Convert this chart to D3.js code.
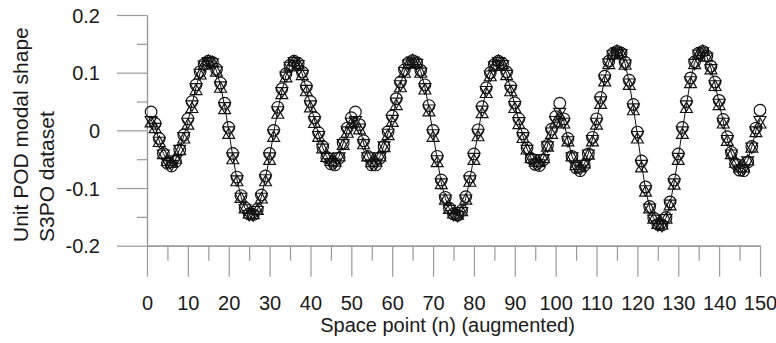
<!DOCTYPE html>
<html>
<head>
<meta charset="utf-8">
<script src="https://cdn.jsdelivr.net/npm/d3@7"></script>
<style>
  body { margin: 0; background: #fff; }
  text { font-family: "Liberation Sans", Arial, sans-serif; fill: #1a1a1a; }
</style>
</head>
<body>
<script>
// space points 1..150 (three 50-point blocks, augmented)
const points = d3.range(1, 151);

// circle series
const circleVals = [
  0.032, 0.012, -0.014, -0.040, -0.057, -0.062, -0.054, -0.034, -0.008, 0.020,
  0.050, 0.079, 0.102, 0.115, 0.120, 0.118, 0.106, 0.082, 0.047, 0.005,
  -0.040, -0.081, -0.113, -0.134, -0.145, -0.146, -0.137, -0.112, -0.079, -0.040,
  0.000, 0.040, 0.072, 0.098, 0.113, 0.120, 0.116, 0.101, 0.076, 0.050,
  0.022, -0.004, -0.028, -0.047, -0.058, -0.060, -0.048, -0.022, 0.004, 0.022,
  0.032, 0.010, -0.018, -0.045, -0.060, -0.060, -0.048, -0.028, -0.002, 0.025,
  0.055, 0.084, 0.105, 0.117, 0.121, 0.117, 0.104, 0.079, 0.043, 0.000,
  -0.045, -0.086, -0.116, -0.135, -0.145, -0.147, -0.139, -0.115, -0.081, -0.041,
  0.001, 0.041, 0.074, 0.100, 0.114, 0.120, 0.116, 0.101, 0.076, 0.048,
  0.020, -0.006, -0.030, -0.049, -0.059, -0.061, -0.051, -0.026, 0.002, 0.024,
  0.047, 0.020, -0.014, -0.045, -0.065, -0.070, -0.061, -0.041, -0.012, 0.020,
  0.057, 0.094, 0.120, 0.133, 0.137, 0.134, 0.118, 0.087, 0.045, -0.003,
  -0.053, -0.098, -0.132, -0.152, -0.163, -0.164, -0.151, -0.124, -0.086, -0.041,
  0.005, 0.050, 0.091, 0.119, 0.134, 0.137, 0.129, 0.111, 0.084, 0.052,
  0.019, -0.011, -0.038, -0.058, -0.069, -0.070, -0.055, -0.028, 0.004, 0.035
];

// up-triangle series
const upTriVals = [
  0.012, 0.002, -0.022, -0.043, -0.055, -0.058, -0.051, -0.036, -0.016, 0.008,
  0.037, 0.068, 0.095, 0.112, 0.119, 0.117, 0.100, 0.072, 0.035, -0.008,
  -0.052, -0.090, -0.119, -0.137, -0.146, -0.147, -0.140, -0.120, -0.090, -0.053,
  -0.013, 0.027, 0.061, 0.090, 0.109, 0.118, 0.113, 0.094, 0.066, 0.038,
  0.011, -0.013, -0.033, -0.048, -0.055, -0.056, -0.047, -0.027, -0.006, 0.010,
  0.012, 0.000, -0.026, -0.047, -0.057, -0.056, -0.047, -0.031, -0.010, 0.013,
  0.042, 0.073, 0.098, 0.114, 0.120, 0.116, 0.098, 0.069, 0.031, -0.013,
  -0.057, -0.095, -0.122, -0.138, -0.146, -0.148, -0.142, -0.122, -0.091, -0.053,
  -0.012, 0.028, 0.063, 0.092, 0.110, 0.119, 0.113, 0.094, 0.066, 0.037,
  0.009, -0.015, -0.035, -0.050, -0.056, -0.057, -0.050, -0.030, -0.008, 0.012,
  0.024, 0.010, -0.021, -0.047, -0.062, -0.066, -0.059, -0.044, -0.021, 0.008,
  0.044, 0.083, 0.113, 0.130, 0.136, 0.133, 0.112, 0.077, 0.033, -0.016,
  -0.066, -0.108, -0.137, -0.155, -0.164, -0.165, -0.155, -0.132, -0.096, -0.053,
  -0.008, 0.037, 0.080, 0.113, 0.131, 0.136, 0.126, 0.104, 0.075, 0.042,
  0.010, -0.020, -0.043, -0.058, -0.066, -0.066, -0.054, -0.032, -0.005, 0.010
];

// down-triangle series (the line runs through this one)
const downTriVals = [
  0.018, 0.006, -0.018, -0.040, -0.054, -0.058, -0.050, -0.032, -0.010, 0.015,
  0.045, 0.075, 0.100, 0.114, 0.120, 0.118, 0.104, 0.078, 0.042, 0.000,
  -0.045, -0.085, -0.115, -0.135, -0.145, -0.146, -0.138, -0.115, -0.083, -0.045,
  -0.005, 0.035, 0.068, 0.095, 0.112, 0.120, 0.115, 0.098, 0.072, 0.045,
  0.018, -0.008, -0.030, -0.046, -0.055, -0.056, -0.045, -0.022, 0.000, 0.015,
  0.018, 0.005, -0.022, -0.045, -0.057, -0.056, -0.045, -0.026, -0.004, 0.020,
  0.050, 0.080, 0.103, 0.116, 0.121, 0.117, 0.102, 0.075, 0.038, -0.005,
  -0.050, -0.090, -0.118, -0.136, -0.145, -0.147, -0.140, -0.118, -0.085, -0.046,
  -0.004, 0.036, 0.070, 0.097, 0.113, 0.120, 0.115, 0.098, 0.072, 0.044,
  0.016, -0.010, -0.032, -0.048, -0.056, -0.057, -0.048, -0.026, -0.002, 0.018,
  0.032, 0.015, -0.017, -0.045, -0.062, -0.066, -0.058, -0.040, -0.015, 0.015,
  0.052, 0.090, 0.118, 0.132, 0.137, 0.134, 0.116, 0.083, 0.040, -0.008,
  -0.058, -0.102, -0.134, -0.153, -0.163, -0.164, -0.152, -0.127, -0.090, -0.046,
  0.000, 0.045, 0.087, 0.117, 0.133, 0.137, 0.128, 0.108, 0.080, 0.048,
  0.015, -0.015, -0.040, -0.057, -0.066, -0.066, -0.052, -0.028, 0.000, 0.018
];

// ticks
const xMajorTicks = d3.range(0, 151, 10);
const xMinorTicks = d3.range(5, 150, 10);
const yMajorTicks = [-0.2, -0.1, 0, 0.1, 0.2];
const yMinorTicks = [-0.15, -0.05, 0.05, 0.15];
const yTickLabels = ['-0.2', '-0.1', '0', '0.1', '0.2'];

const W = 776, H = 343;
const plotLeft = 147, plotRight = 760, plotTop = 15, plotBottom = 245.7;
const axisColor = '#9a9a9a';
const ink = '#111';

const svg = d3.select('body').append('svg')
  .attr('width', W)
  .attr('height', H);

const x = d3.scaleLinear().domain([0, 150]).range([plotLeft, plotRight]);
const y = d3.scaleLinear().domain([-0.2, 0.2]).range([plotBottom, plotTop]);

// y axis: long major ticks to the left, short minor ticks
const yAxis = svg.append('g')
  .attr('transform', `translate(${plotLeft},0)`)
  .call(d3.axisLeft(y).tickValues(yMajorTicks).tickSize(30).tickSizeOuter(0)
    .tickPadding(17)
    .tickFormat((d, i) => yTickLabels[i]));
svg.append('g')
  .attr('transform', `translate(${plotLeft},0)`)
  .call(d3.axisLeft(y).tickValues(yMinorTicks).tickSize(10).tickSizeOuter(0).tickFormat(''));

// x axis: long major ticks down, short minor ticks
const xAxis = svg.append('g')
  .attr('transform', `translate(0,${plotBottom})`)
  .call(d3.axisBottom(x).tickValues(xMajorTicks).tickSize(31).tickSizeOuter(0));
svg.append('g')
  .attr('transform', `translate(0,${plotBottom})`)
  .call(d3.axisBottom(x).tickValues(xMinorTicks).tickSize(15).tickSizeOuter(0).tickFormat(''));

svg.selectAll('.domain, .tick line')
  .attr('stroke', axisColor)
  .attr('stroke-width', 1.2);

yAxis.selectAll('text')
  .attr('font-size', '20px')
  .attr('dy', '0.36em')
  .style('font-family', '"Liberation Sans", Arial, sans-serif')
  .attr('fill', '#1a1a1a');

xAxis.selectAll('text')
  .attr('font-size', '20px')
  .attr('y', 64)
  .attr('dy', 0)
  .style('font-family', '"Liberation Sans", Arial, sans-serif')
  .attr('fill', '#1a1a1a');

// axis titles
svg.append('text')
  .attr('x', (plotLeft + plotRight) / 2 - 6)
  .attr('y', 332)
  .attr('text-anchor', 'middle')
  .attr('font-size', '20px')
  .text('Space point (n) (augmented)');

const yTitle = svg.append('text')
  .attr('transform', 'translate(28,242) rotate(-90)')
  .attr('font-size', '21px');
yTitle.append('tspan').attr('x', 0).attr('y', 0).text('Unit POD modal shape');
yTitle.append('tspan').attr('x', 0).attr('y', 25.5).text('S3PO dataset');

// connecting line
const line = d3.line()
  .x((d, i) => x(points[i]))
  .y(d => y(d));

svg.append('path')
  .datum(downTriVals)
  .attr('d', line)
  .attr('fill', 'none')
  .attr('stroke', ink)
  .attr('stroke-width', 1);

// markers
const plot = svg.append('g')
  .attr('fill', 'none')
  .attr('stroke', ink)
  .attr('stroke-width', 1.15);

plot.selectAll('circle')
  .data(circleVals)
  .enter()
  .append('circle')
    .attr('cx', (d, i) => x(points[i]))
    .attr('cy', d => y(d))
    .attr('r', 5.8);

const tri = d3.symbol().type(d3.symbolTriangle).size(62);

plot.selectAll('path.up')
  .data(upTriVals)
  .enter()
  .append('path')
    .attr('class', 'up')
    .attr('d', tri)
    .attr('transform', (d, i) => `translate(${x(points[i])},${y(d)})`);

plot.selectAll('path.down')
  .data(downTriVals)
  .enter()
  .append('path')
    .attr('class', 'down')
    .attr('d', tri)
    .attr('transform', (d, i) => `translate(${x(points[i])},${y(d)}) rotate(180)`);
</script>
</body>
</html>
